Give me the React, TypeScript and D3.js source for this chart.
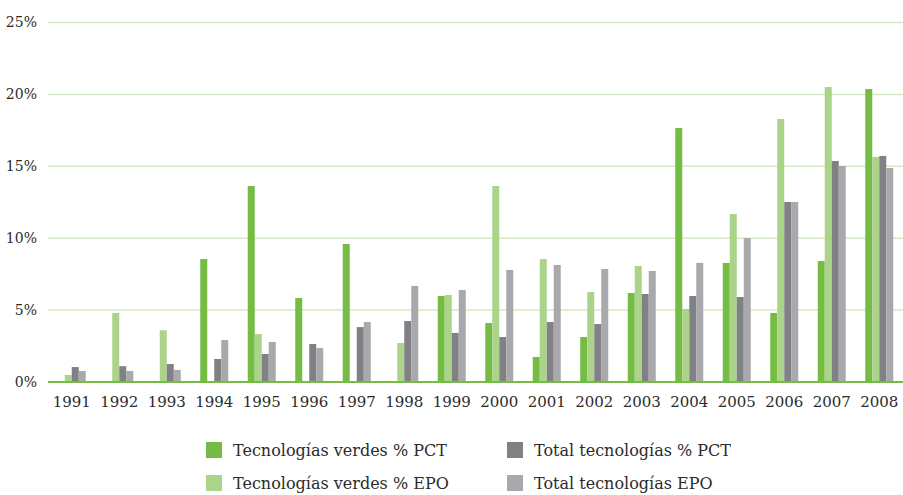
import React from 'react';
import * as d3 from 'd3';

const years = [
  '1991', '1992', '1993', '1994', '1995', '1996', '1997', '1998', '1999',
  '2000', '2001', '2002', '2003', '2004', '2005', '2006', '2007', '2008',
];

// values in %
const verdesPCT = [0, 0, 0, 8.55, 13.63, 5.84, 9.6, 0, 5.98, 4.1, 1.74, 3.13, 6.19, 17.66, 8.28, 4.8, 8.41, 20.37];
const verdesEPO = [0.49, 4.8, 3.6, 0, 3.34, 0, 0, 2.71, 6.05, 13.63, 8.55, 6.26, 8.07, 5.08, 11.68, 18.29, 20.51, 15.65];
const totalPCT = [1.04, 1.1, 1.25, 1.6, 1.95, 2.64, 3.82, 4.24, 3.41, 3.13, 4.17, 4.03, 6.12, 5.98, 5.91, 12.52, 15.37, 15.72];
const totalEPO = [0.77, 0.77, 0.84, 2.92, 2.78, 2.36, 4.17, 6.68, 6.4, 7.79, 8.14, 7.86, 7.72, 8.28, 10.01, 12.52, 15.02, 14.88];

const yTicks = [0, 5, 10, 15, 20, 25];

const series = [
  { name: 'Tecnologías verdes % PCT', values: verdesPCT, color: '#74bc43' },
  { name: 'Tecnologías verdes % EPO', values: verdesEPO, color: '#acd38a' },
  { name: 'Total tecnologías % PCT', values: totalPCT, color: '#818185' },
  { name: 'Total tecnologías EPO', values: totalEPO, color: '#a9a9ad' },
];

const W = 903;
const H = 495;
const font = "'DejaVu Serif'";
const textColor = '#2b2b2b';

export default function App() {
  const x0 = d3.scaleBand().domain(years).range([48, 903]).padding(0);
  const groupW = 28;
  const x1 = d3
    .scaleBand()
    .domain(series.map((s) => s.name))
    .range([(x0.bandwidth() - groupW) / 2, (x0.bandwidth() + groupW) / 2]);
  const y = d3.scaleLinear().domain([0, 25]).range([382, 22.5]);

  // legend: 2 columns x 2 rows, filled column by column
  const legendCols = [206, 507];
  const legendRows = [442, 475];

  return (
    <svg
      width={W}
      height={H}
      style={{ position: 'absolute', left: 0, top: 0, background: '#fff', fontFamily: font }}
    >
      {/* gridlines */}
      {yTicks.slice(1).map((t) => (
        <line key={t} x1={48} x2={903} y1={y(t)} y2={y(t)} stroke="#d3eac3" strokeWidth={1.5} />
      ))}

      {/* y labels */}
      {yTicks.map((t) => (
        <text
          key={t}
          x={37}
          y={y(t)}
          dy="0.35em"
          textAnchor="end"
          fontSize={14}
          fill={textColor}
        >
          {t}%
        </text>
      ))}

      {/* bars */}
      {years.map((yr, i) => (
        <g key={yr} transform={`translate(${x0(yr)},0)`}>
          {series.map((s) =>
            s.values[i] > 0 ? (
              <rect
                key={s.name}
                x={x1(s.name)}
                y={y(s.values[i])}
                width={x1.bandwidth()}
                height={y(0) - y(s.values[i])}
                fill={s.color}
              />
            ) : null
          )}
        </g>
      ))}

      {/* baseline */}
      <line x1={48} x2={903} y1={y(0)} y2={y(0)} stroke="#74bc43" strokeWidth={2} />

      {/* x labels */}
      {years.map((yr) => (
        <text
          key={yr}
          x={(x0(yr) as number) + x0.bandwidth() / 2}
          y={407}
          textAnchor="middle"
          fontSize={15}
          fill={textColor}
        >
          {yr}
        </text>
      ))}

      {/* legend */}
      {series.map((s, k) => {
        const lx = legendCols[Math.floor(k / 2)];
        const ly = legendRows[k % 2];
        return (
          <g key={s.name} transform={`translate(${lx},${ly})`}>
            <rect width={16} height={16} fill={s.color} />
            <text x={27} y={14} fontSize={16} fill={textColor}>
              {s.name}
            </text>
          </g>
        );
      })}
    </svg>
  );
}
